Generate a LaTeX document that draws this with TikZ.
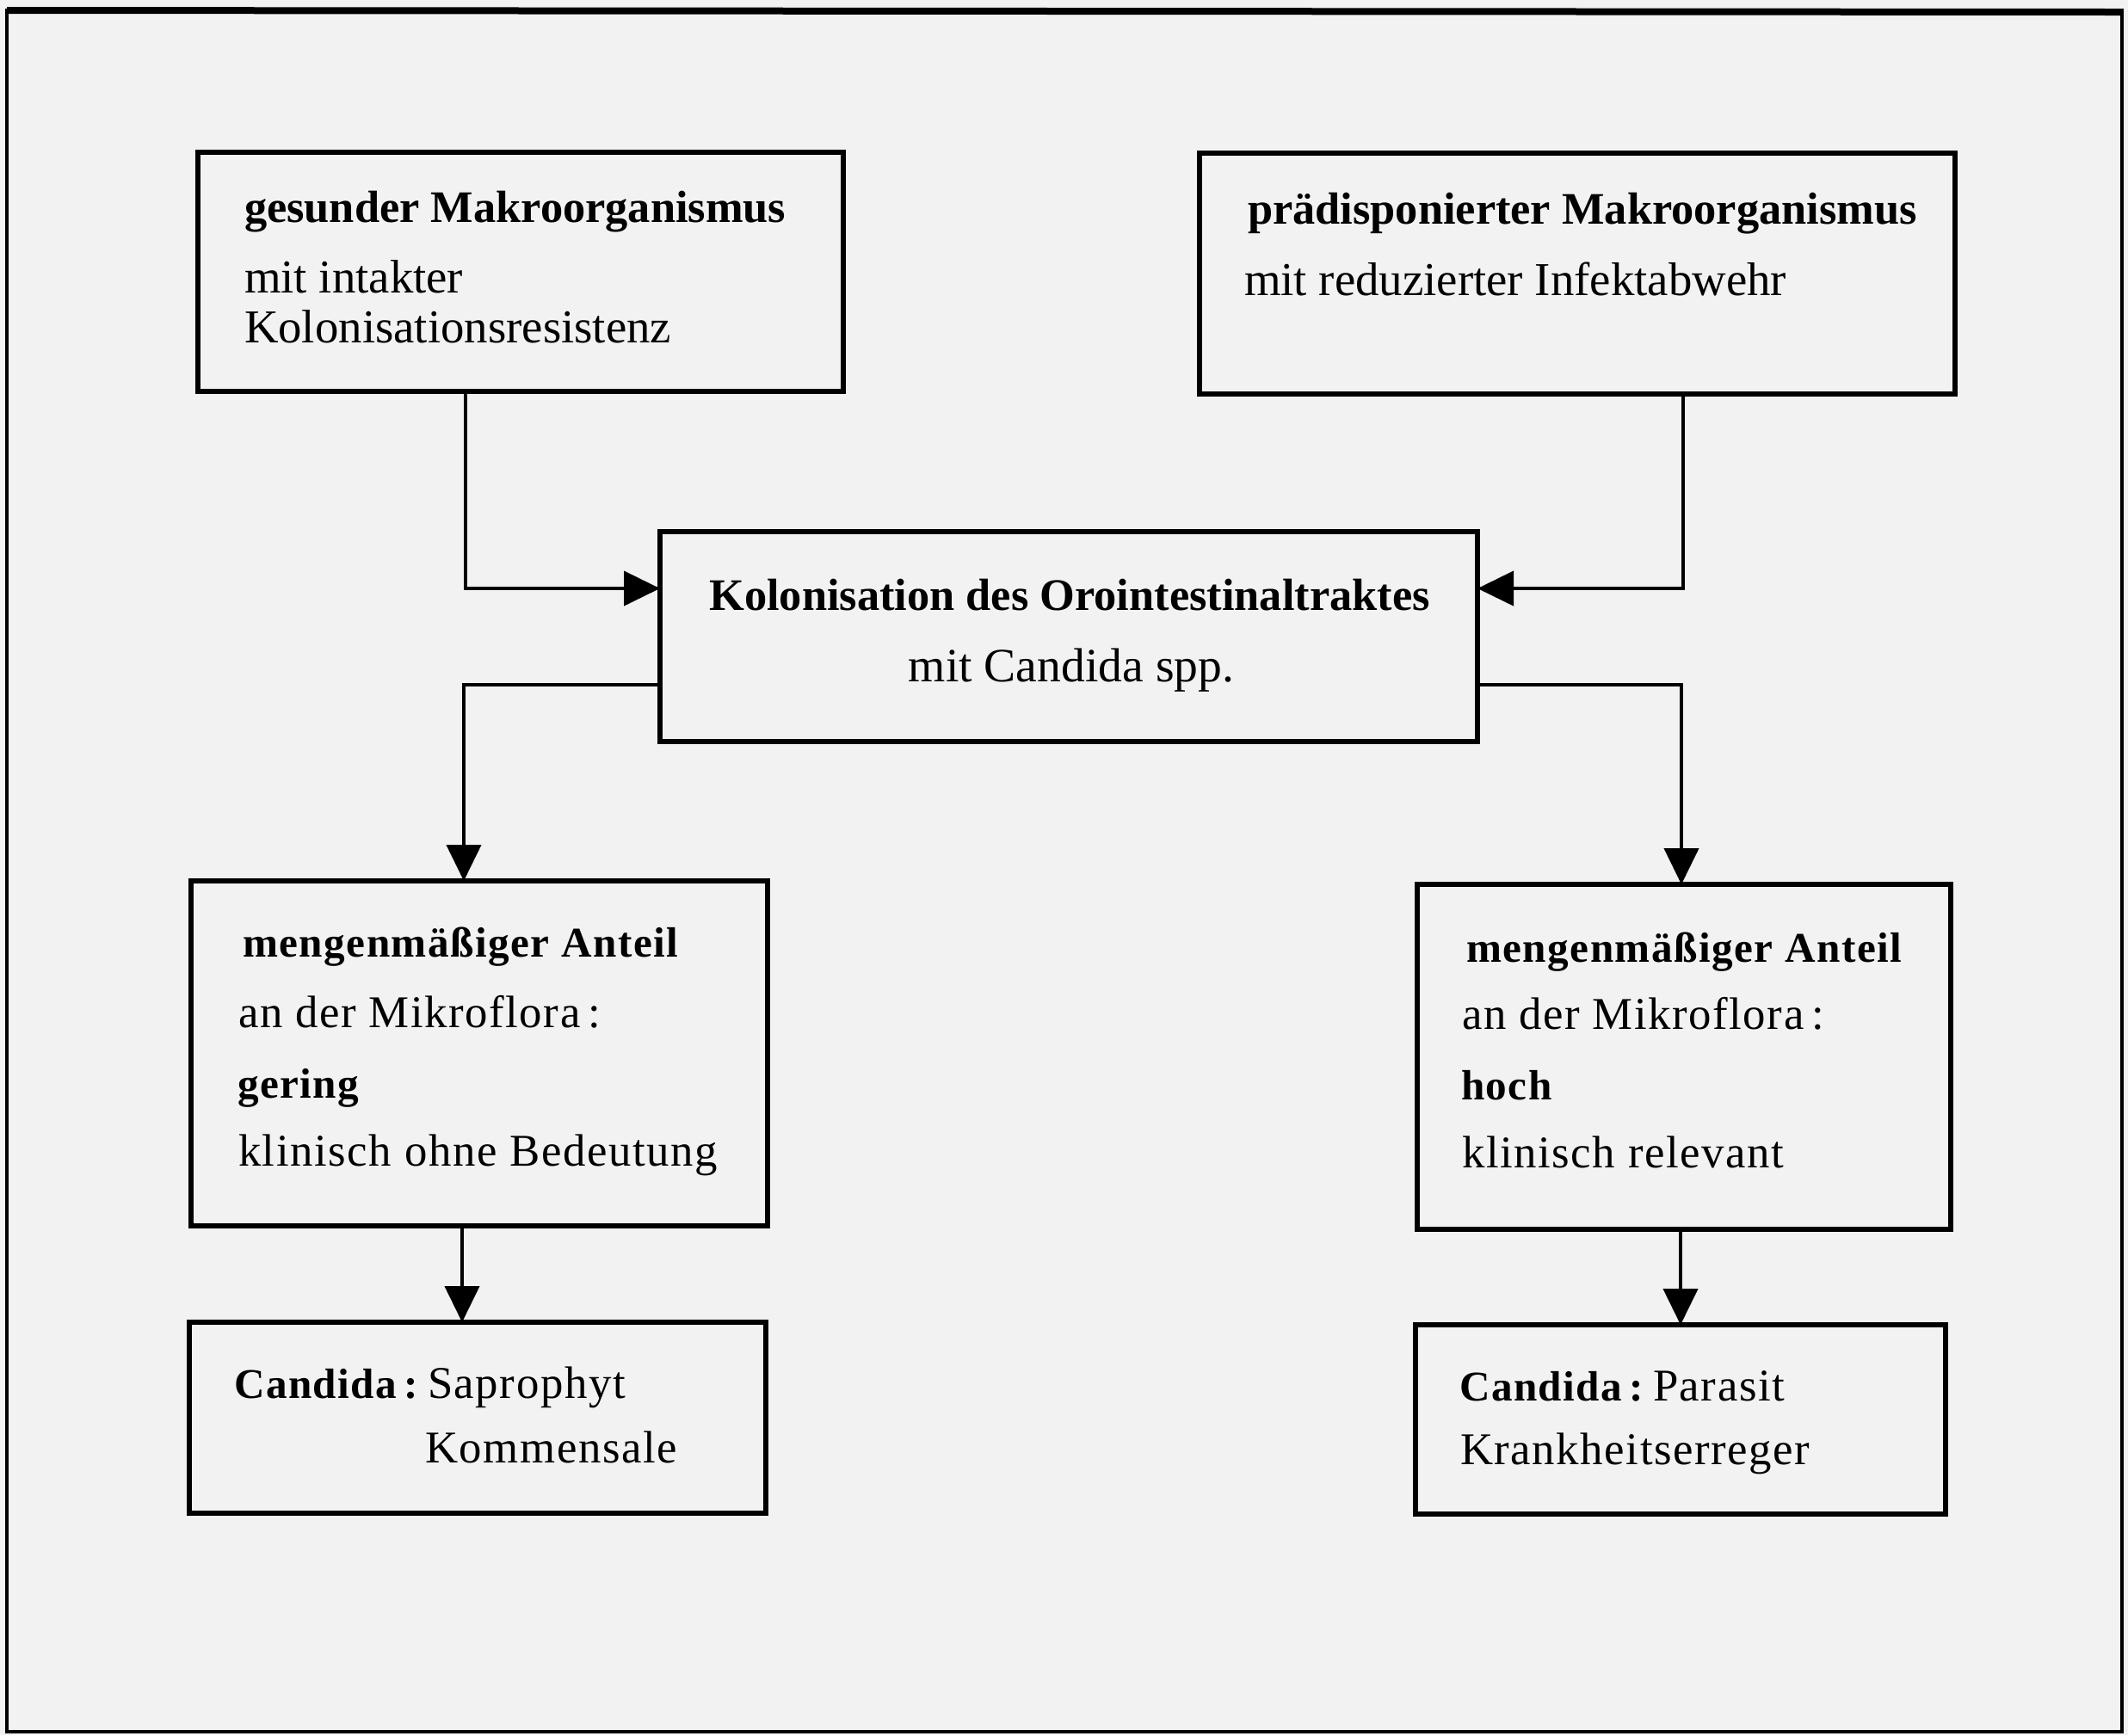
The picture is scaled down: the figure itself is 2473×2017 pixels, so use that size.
\documentclass[tikz,border=0pt]{standalone}
\usepackage{fontspec}
\setmainfont{Liberation Serif}
\newfontfamily\lowfont[LetterSpace=3]{Liberation Serif}
\usetikzlibrary{arrows.meta,fit}
\definecolor{paper}{gray}{0.95}

\begin{document}
\begin{tikzpicture}[x=0.25pt,y=-0.25pt,
  box/.style={draw, line width=1.3pt, inner sep=0pt, outer sep=0pt},
  conn/.style={line width=1.05pt},
  arr/.style={conn, -{Triangle[length=10.5pt,width=10pt]}},
  txt/.style={anchor=base west, inner sep=0pt, outer sep=0pt},
  ctxt/.style={anchor=base, inner sep=0pt, outer sep=0pt},
  hibold/.style={font=\fontsize{13.1pt}{15pt}\selectfont\bfseries},
  hireg/.style={font=\fontsize{13.7pt}{16pt}\selectfont},
  midreg/.style={font=\fontsize{13.9pt}{16pt}\selectfont},
  lobold/.style={font=\lowfont\fontsize{12.3pt}{14pt}\selectfont\bfseries},
  loreg/.style={font=\lowfont\fontsize{13.2pt}{15pt}\selectfont}]

% page and outer frame
\fill[paper] (0,0) rectangle (2473,2017);
\useasboundingbox (0,0) rectangle (2473,2017);
\draw[line width=1.2pt] (8,12) rectangle (2466,2013);
\draw[line width=2pt] (8,12) -- (2466,14);

% boxes
\node[box, fit={(230,177) (980,455)}] (b1) {};
\node[box, fit={(1394,178) (2272,458)}] (b2) {};
\node[box, fit={(767,618) (1717,862)}] (kol) {};
\node[box, fit={(222,1024) (892,1425)}] (m1) {};
\node[box, fit={(1647,1028) (2267,1429)}] (m2) {};
\node[box, fit={(220,1537) (890,1759)}] (e1) {};
\node[box, fit={(1645,1540) (2261,1760)}] (e2) {};

% texts, upper boxes
\node[txt, hibold] (t1a) at (284,258) {gesunder Makroorganismus};
\node[txt, hireg]  (t1b) at (284,340) {mit intakter};
\node[txt, hireg]  (t1c) at (284,398) {Kolonisationsresistenz};
\node[txt, hibold] (t2a) at (1450,260) {prädisponierter Makroorganismus};
\node[txt, hireg]  (t2b) at (1446,343) {mit reduzierter Infektabwehr};

% texts, central box
\node[ctxt, hibold] (tka) at (1243,709) {Kolonisation des Orointestinaltraktes};
\node[ctxt, midreg] (tkb) at (1245,792) {mit Candida spp.};

% texts, lower boxes
\node[txt, lobold] (t3a) at (282,1112) {mengenmäßiger Anteil};
\node[txt, loreg]  (t3b) at (277,1194) {an der Mikroflora\,:};
\node[txt, lobold] (t3c) at (276,1276) {gering};
\node[txt, loreg]  (t3d) at (277,1355) {klinisch ohne Bedeutung};
\node[txt, lobold] (t4a) at (1704,1118) {mengenmäßiger Anteil};
\node[txt, loreg]  (t4b) at (1699,1196) {an der Mikroflora\,:};
\node[txt, lobold] (t4c) at (1698,1278) {hoch};
\node[txt, loreg]  (t4d) at (1699,1357) {klinisch relevant};

\node[txt, lobold] (t5a) at (272,1625) {Candida\,:};
\node[txt, loreg]  (t5b) at (497,1625) {Saprophyt};
\node[txt, loreg]  (t5c) at (494,1700) {Kommensale};
\node[txt, lobold] (t6a) at (1696,1628) {Candida\,:};
\node[txt, loreg]  (t6b) at (1921,1628) {Parasit};
\node[txt, loreg]  (t6c) at (1697,1702) {Krankheitserreger};

% bend points of the connectors
\coordinate (c1) at (541,684);
\coordinate (c2) at (1956,684);
\coordinate (c3) at (539,796);
\coordinate (c4) at (1954,796);
\coordinate (c5) at (537,0);
\coordinate (c6) at (1953,0);

% connectors
\draw[arr] (b1.south -| c1) |- (kol.west |- c1);
\draw[arr] (b2.south -| c2) |- (kol.east |- c2);
\draw[arr] (kol.west |- c3) -| (m1.north -| c3);
\draw[arr] (kol.east |- c4) -| (m2.north -| c4);
\draw[arr] (m1.south -| c5) -- (e1.north -| c5);
\draw[arr] (m2.south -| c6) -- (e2.north -| c6);
\end{tikzpicture}
\end{document}
